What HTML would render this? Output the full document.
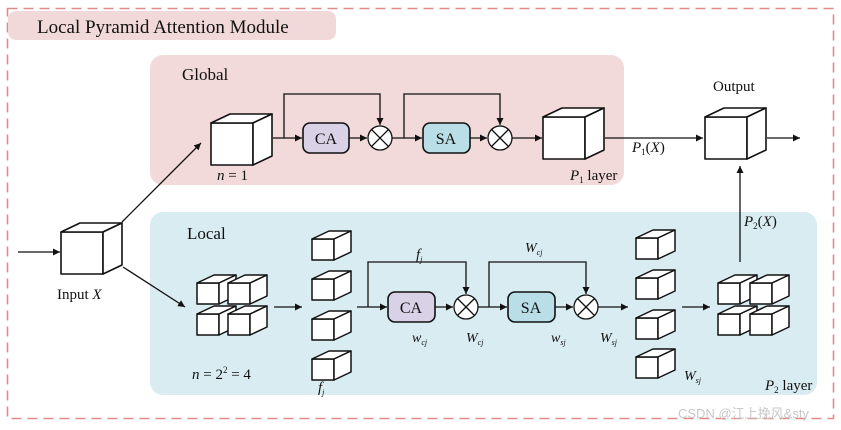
<!DOCTYPE html>
<html><head><meta charset="utf-8"><style>
html,body{margin:0;padding:0;background:#fff}
svg{display:block}
text{font-family:"Liberation Serif",serif;fill:#111}
.i{font-style:italic}
</style></head><body>
<svg width="841" height="430" viewBox="0 0 841 430" xmlns="http://www.w3.org/2000/svg">
<defs>
<marker id="a" markerWidth="8" markerHeight="8" refX="7" refY="4" orient="auto" markerUnits="userSpaceOnUse"><path d="M0,0.5 L7,4 L0,7.5z" fill="#111"/></marker>
<g id="bc" fill="#fff" stroke="#111" stroke-width="1.6" stroke-linejoin="round">
<rect x="0" y="0" width="42" height="42"/>
<path d="M0,0 L19,-9 L61,-9 L42,0z"/>
<path d="M42,0 L61,-9 L61,33 L42,42z"/>
</g>
<g id="sc" fill="#fff" stroke="#111" stroke-width="1.5" stroke-linejoin="round">
<rect x="0" y="0" width="22" height="21"/>
<path d="M0,0 L17,-8 L39,-8 L22,0z"/>
<path d="M22,0 L39,-8 L39,13 L22,21z"/>
</g>
<g id="ot" stroke="#111" stroke-width="1.3" fill="#fff">
<circle cx="0" cy="0" r="12"/>
<path d="M-8.5,-8.5 L8.5,8.5 M-8.5,8.5 L8.5,-8.5"/>
</g>
</defs>

<rect x="7.5" y="8.5" width="826" height="410" fill="none" stroke="#e08a8a" stroke-width="1.6" stroke-dasharray="10,6"/>
<rect x="8" y="11" width="328" height="29" rx="8" fill="#f2d9d9"/>
<text x="37" y="33" font-size="19">Local Pyramid Attention Module</text>

<rect x="150" y="55" width="474" height="130" rx="13" fill="#f1dad9"/>
<text x="182" y="80" font-size="17">Global</text>
<rect x="150" y="212" width="667" height="183" rx="13" fill="#d9ecf1"/>
<text x="187" y="239" font-size="17">Local</text>

<g stroke="#111" stroke-width="1.3" fill="none">
<!-- input -->
<path d="M18,252 L60,252" marker-end="url(#a)"/>
<path d="M122,222 L201,143" marker-end="url(#a)"/>
<path d="M123,267 L185,307" marker-end="url(#a)"/>
<!-- global -->
<path d="M273,138 L302,138" marker-end="url(#a)"/>
<path d="M284,138 L284,94 L380,94 L380,125" marker-end="url(#a)"/>
<path d="M349,138 L367,138" marker-end="url(#a)"/>
<path d="M392,138 L422,138" marker-end="url(#a)"/>
<path d="M404,138 L404,94 L500,94 L500,125" marker-end="url(#a)"/>
<path d="M470,138 L487,138" marker-end="url(#a)"/>
<path d="M512,138 L542,138" marker-end="url(#a)"/>
<path d="M605,138 L703,138" marker-end="url(#a)"/>
<path d="M767,138 L800,138" marker-end="url(#a)"/>
<!-- local -->
<path d="M274,307 L302,307" marker-end="url(#a)"/>
<path d="M357,307 L387,307" marker-end="url(#a)"/>
<path d="M368,307 L368,262 L466,262 L466,294" marker-end="url(#a)"/>
<path d="M435,307 L453,307" marker-end="url(#a)"/>
<path d="M478,307 L507,307" marker-end="url(#a)"/>
<path d="M489,307 L489,262 L586,262 L586,294" marker-end="url(#a)"/>
<path d="M555,307 L573,307" marker-end="url(#a)"/>
<path d="M598,307 L628,307" marker-end="url(#a)"/>
<path d="M682,307 L710,307" marker-end="url(#a)"/>
<path d="M740,262 L740,166" marker-end="url(#a)"/>
</g>

<!-- cubes -->
<use href="#bc" x="61" y="232"/>
<use href="#bc" x="211" y="123"/>
<use href="#bc" x="543" y="117"/>
<use href="#bc" x="705" y="117"/>

<use href="#sc" x="197" y="283"/><use href="#sc" x="228" y="283"/>
<use href="#sc" x="197" y="314"/><use href="#sc" x="228" y="314"/>

<use href="#sc" x="312" y="239"/><use href="#sc" x="312" y="279"/>
<use href="#sc" x="312" y="319"/><use href="#sc" x="312" y="359"/>

<use href="#sc" x="636" y="238"/><use href="#sc" x="636" y="278"/>
<use href="#sc" x="636" y="318"/><use href="#sc" x="636" y="357"/>

<use href="#sc" x="718" y="283"/><use href="#sc" x="750" y="283"/>
<use href="#sc" x="718" y="314"/><use href="#sc" x="750" y="314"/>

<!-- boxes -->
<rect x="303" y="123" width="46" height="30" rx="7" fill="#d9d1e5" stroke="#111" stroke-width="1.6"/>
<text x="326" y="144" font-size="16" text-anchor="middle">CA</text>
<rect x="423" y="123" width="47" height="30" rx="7" fill="#b9dee7" stroke="#111" stroke-width="1.6"/>
<text x="446" y="144" font-size="16" text-anchor="middle">SA</text>
<rect x="388" y="292" width="47" height="30" rx="7" fill="#d9d1e5" stroke="#111" stroke-width="1.6"/>
<text x="411" y="313" font-size="16" text-anchor="middle">CA</text>
<rect x="508" y="292" width="47" height="30" rx="7" fill="#b9dee7" stroke="#111" stroke-width="1.6"/>
<text x="531" y="313" font-size="16" text-anchor="middle">SA</text>

<use href="#ot" x="380" y="138"/>
<use href="#ot" x="500" y="138"/>
<use href="#ot" x="466" y="307"/>
<use href="#ot" x="586" y="307"/>

<!-- labels -->
<text x="57" y="299" font-size="15">Input <tspan class="i">X</tspan></text>
<text x="217" y="180" font-size="15"><tspan class="i">n</tspan> = 1</text>
<text x="570" y="180" font-size="15"><tspan class="i">P</tspan><tspan font-size="9" dy="3">1</tspan><tspan dy="-3"> layer</tspan></text>
<text x="632" y="152" font-size="15"><tspan class="i">P</tspan><tspan font-size="9" dy="3">1</tspan><tspan dy="-3">(</tspan><tspan class="i">X</tspan>)</text>
<text x="713" y="91" font-size="15">Output</text>
<text x="744" y="226" font-size="15"><tspan class="i">P</tspan><tspan font-size="9" dy="3">2</tspan><tspan dy="-3">(</tspan><tspan class="i">X</tspan>)</text>
<text x="765" y="390" font-size="15"><tspan class="i">P</tspan><tspan font-size="9" dy="3">2</tspan><tspan dy="-3"> layer</tspan></text>
<text x="192" y="379" font-size="15"><tspan class="i">n</tspan> = 2<tspan font-size="9" dy="-6">2</tspan><tspan dy="6"> = 4</tspan></text>
<text x="416" y="259" font-size="15" class="i">f<tspan font-size="8" dy="3">j</tspan></text>
<text x="318" y="392" font-size="15" class="i">f<tspan font-size="8" dy="3">j</tspan></text>
<text x="412" y="342" font-size="14" class="i">w<tspan font-size="8" dy="3">cj</tspan></text>
<text x="466" y="342" font-size="14" class="i">W<tspan font-size="8" dy="3">cj</tspan></text>
<text x="525" y="252" font-size="14" class="i">W<tspan font-size="8" dy="3">cj</tspan></text>
<text x="551" y="342" font-size="14" class="i">w<tspan font-size="8" dy="3">sj</tspan></text>
<text x="600" y="342" font-size="14" class="i">W<tspan font-size="8" dy="3">sj</tspan></text>
<text x="684" y="380" font-size="14" class="i">W<tspan font-size="8" dy="3">sj</tspan></text>
<text x="678" y="418" font-size="13" style="font-family:'Liberation Sans','Noto Sans CJK SC',sans-serif;fill:#c8c8c8">CSDN @江上挽风&amp;sty</text>
</svg>
</body></html>
